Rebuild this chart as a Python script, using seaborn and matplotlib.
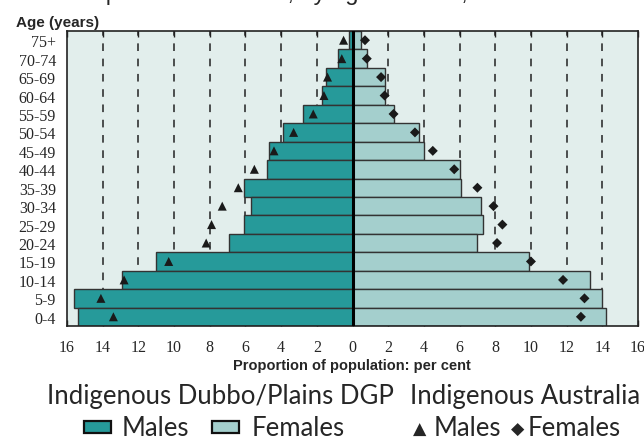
import numpy as np
import pandas as pd
import matplotlib
matplotlib.use("Agg")
import matplotlib.pyplot as plt
from matplotlib.patches import Rectangle
import seaborn as sns

# age groups, top of the pyramid first
ages = ['75+', '70-74', '65-69', '60-64', '55-59', '50-54', '45-49', '40-44',
        '35-39', '30-34', '25-29', '20-24', '15-19', '10-14', '5-9', '0-4']
# Indigenous Dubbo/Plains DGP (bars), per cent
dubbo_males = [0.2, 0.8, 1.5, 1.7, 2.8, 3.9, 4.7, 4.8, 6.1, 5.7, 6.1, 6.9, 11.0, 12.9, 15.6, 15.4]
dubbo_females = [0.5, 0.8, 1.8, 1.8, 2.3, 3.7, 4.0, 6.0, 6.1, 7.2, 7.3, 7.0, 9.9, 13.3, 14.0, 14.2]
# Indigenous Australia (markers), per cent
aus_males = [0.5, 0.6, 1.4, 1.6, 2.2, 3.3, 4.4, 5.5, 6.4, 7.3, 7.9, 8.2, 10.3, 12.8, 14.1, 13.4]
aus_females = [0.7, 0.8, 1.6, 1.8, 2.3, 3.5, 4.5, 5.7, 7.0, 7.9, 8.4, 8.1, 10.0, 11.8, 13.0, 12.8]
xticks = list(range(-16, 17, 2))

male_col = '#269a9a'
female_col = '#a4cfcd'
bg_col = '#e2eeec'

sns.set_style("white")
plt.rcParams['font.family'] = ['Liberation Serif', 'DejaVu Sans']

df = pd.DataFrame({'age': ages,
                   'males': -np.array(dubbo_males),
                   'females': np.array(dubbo_females)})

fig = plt.figure(figsize=(6.44, 4.39), dpi=100)
ax = fig.add_axes([67/644, 1 - 327/439, 571/644, 295/439])
ax.set_facecolor(bg_col)

# dashed grid behind the bars
for g in xticks:
    if g != 0 and abs(g) != 16:
        ax.axvline(g, color='#222222', lw=1.1, ls=(0, (5, 5)), zorder=0)

sns.barplot(data=df, x='males', y='age', order=ages, color=male_col, width=1.0,
            edgecolor='#333333', linewidth=1.0, saturation=1, ax=ax, zorder=2)
sns.barplot(data=df, x='females', y='age', order=ages, color=female_col, width=1.0,
            edgecolor='#333333', linewidth=1.0, saturation=1, ax=ax, zorder=2)

pos = np.arange(len(ages))
sns.scatterplot(x=-np.array(aus_males), y=pos, marker='^', s=42, color='#1a1a1a',
                edgecolor='none', ax=ax, zorder=4, legend=False)
sns.scatterplot(x=np.array(aus_females), y=pos, marker='D', s=26, color='#1a1a1a',
                edgecolor='none', ax=ax, zorder=4, legend=False)

ax.axvline(0, color='black', lw=2.2, zorder=3)

ax.set_xlim(-16, 16)
ax.set_ylim(len(ages) - 0.5, -0.5)
ax.set_xticks(xticks)
ax.set_xticklabels([str(abs(t)) for t in xticks], fontsize=11.5)
ax.set_yticks(pos)
ax.set_yticklabels(ages, fontsize=11.5)
ax.tick_params(axis='y', length=0, pad=8)
ax.tick_params(axis='x', direction='in', length=4, width=1, top=True, bottom=True, pad=9,
               color='#222222')
ax.set_xlabel('')
ax.set_ylabel('')
for s in ax.spines.values():
    s.set_color('#222222')
    s.set_linewidth(1.2)
    s.set_visible(True)

fig.text(16/644, 1 - 27/439, 'Age (years)', fontsize=11, fontweight='bold',
         family=['Liberation Sans Narrow', 'Liberation Sans'], ha='left', va='baseline')
fig.text(352/644, 1 - 370/439, 'Proportion of population: per cent', fontsize=10.5,
         fontweight='bold', family=['Liberation Sans Narrow', 'Liberation Sans'],
         ha='center', va='baseline')

# title, cut off at the top edge as in the source
fig.text(340/644, 1.0, 'Population structure, by age and sex, Dubbo 2001', fontsize=17,
         family=['Liberation Sans'], ha='center', va='baseline')

# legend drawn by hand
lf = ['Lato', 'DejaVu Sans']
fs = 18.5
fig.text(47/644, 1 - 404/439, 'Indigenous Dubbo/Plains DGP', fontsize=fs, family=lf,
         ha='left', va='baseline')
fig.text(410/644, 1 - 404/439, 'Indigenous Australia', fontsize=fs, family=lf,
         ha='left', va='baseline')
fig.add_artist(Rectangle((84/644, 1 - 434/439), 27/644, 12/439, transform=fig.transFigure,
                         facecolor=male_col, edgecolor='#111111', lw=1.6))
fig.text(122/644, 1 - 436/439, 'Males', fontsize=fs, family=lf, ha='left', va='baseline')
fig.add_artist(Rectangle((212/644, 1 - 434/439), 27/644, 12/439, transform=fig.transFigure,
                         facecolor=female_col, edgecolor='#111111', lw=1.6))
fig.text(252/644, 1 - 436/439, 'Females', fontsize=fs, family=lf, ha='left', va='baseline')
fig.text(420/644, 1 - 435/439, '\u25b2', fontsize=12.5, family=['DejaVu Sans'], ha='center',
         va='baseline')
fig.text(434/644, 1 - 436/439, 'Males', fontsize=fs, family=lf, ha='left', va='baseline')
fig.text(518/644, 1 - 435/439, '\u25c6', fontsize=12.5, family=['DejaVu Sans'], ha='center',
         va='baseline')
fig.text(528/644, 1 - 436/439, 'Females', fontsize=fs, family=lf, ha='left', va='baseline')

fig.savefig('out.png', dpi=100)
